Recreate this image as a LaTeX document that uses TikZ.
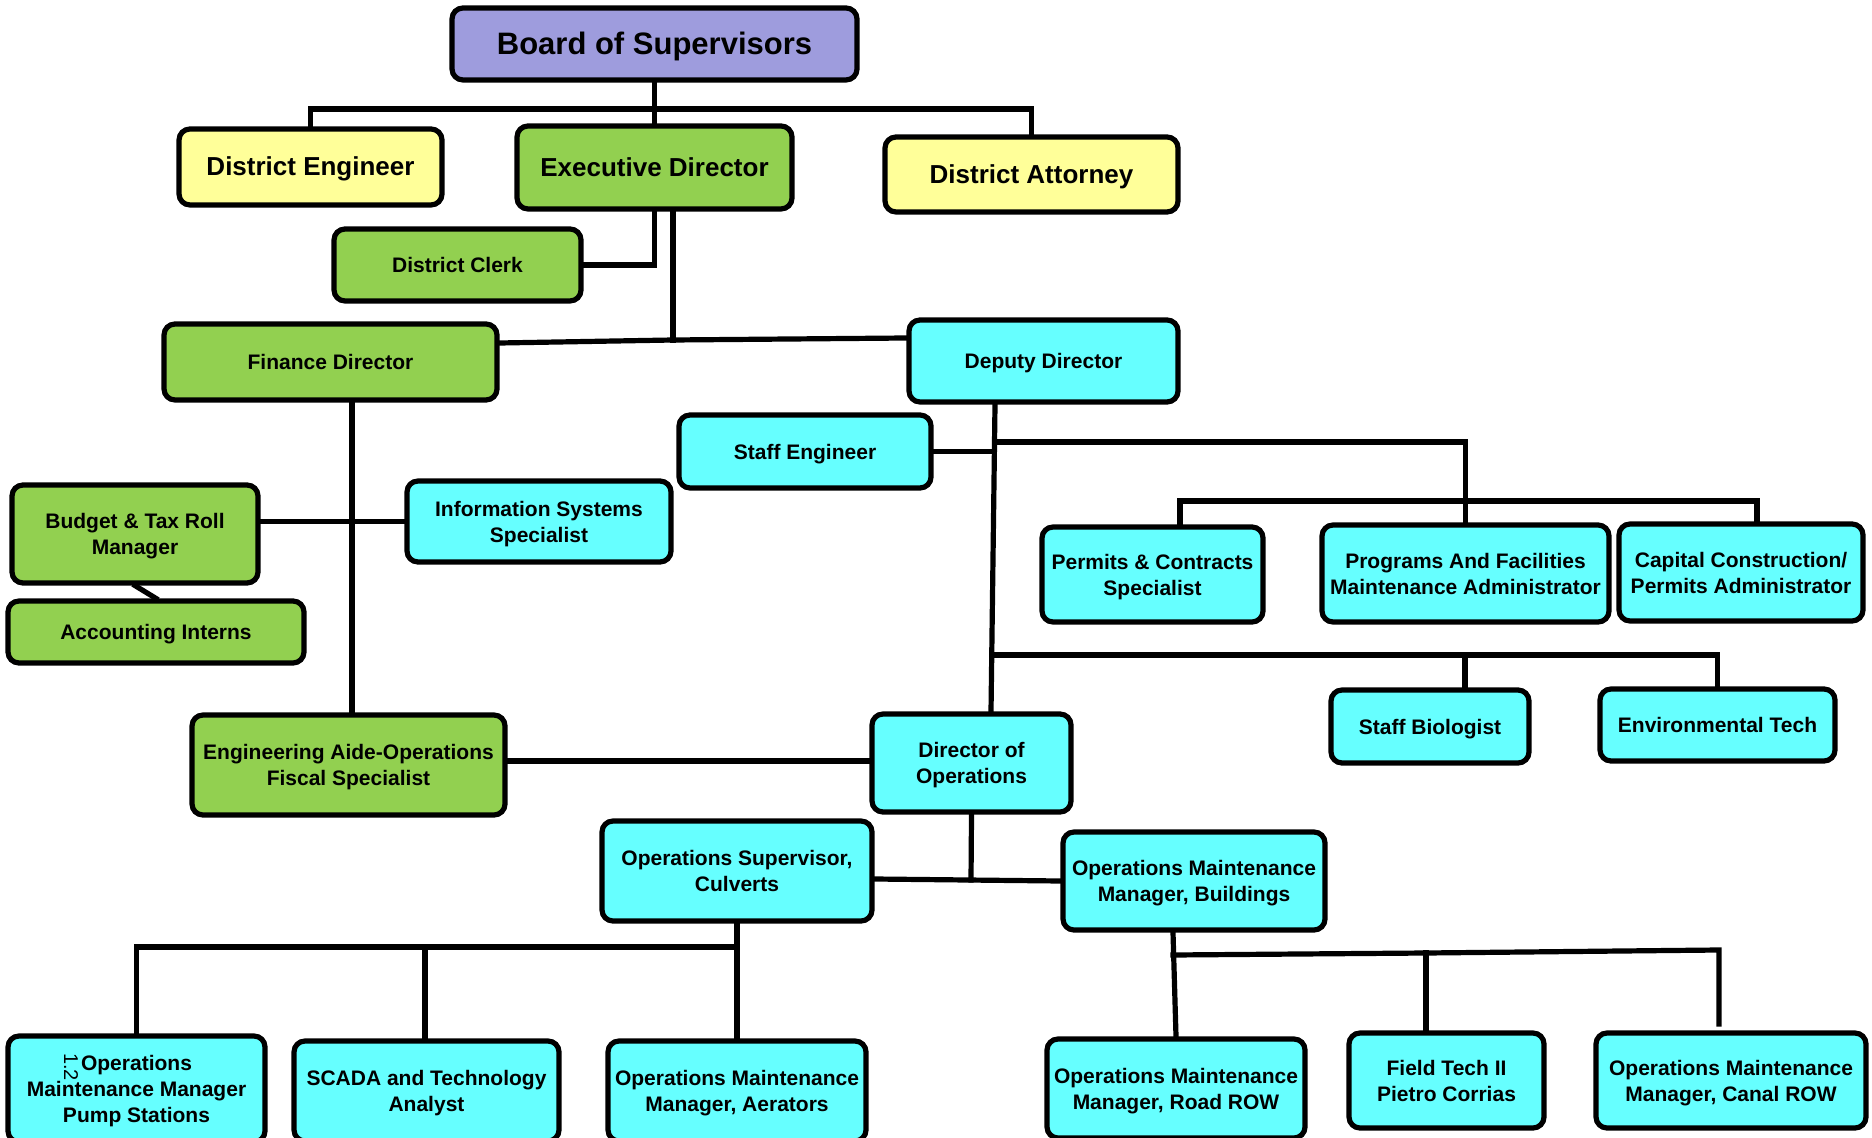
\documentclass[tikz,border=0pt]{standalone}
\usepackage{fontspec}
\setmainfont{Liberation Sans}
\usetikzlibrary{backgrounds}
\definecolor{boardc}{HTML}{9E9CDD}
\definecolor{yelc}{HTML}{FFFF99}
\definecolor{grnc}{HTML}{92D050}
\definecolor{cyac}{HTML}{66FFFF}
\tikzset{
  box/.style={draw=black, line width=2.6pt, rounded corners=5.5pt, inner sep=0pt, align=center, text height=9pt, text depth=1.5pt, font=\bfseries\fontsize{10.5}{13}\selectfont},
  twoline/.style={text height=22pt},
  threeline/.style={text height=35pt},
  bigtext/.style={font=\bfseries\fontsize{13}{16}\selectfont, text height=11pt, text depth=2pt},
  link/.style={draw=black, line width=2.6pt, line cap=rect},
}
\begin{document}
\begin{tikzpicture}[x=0.5pt,y=-0.5pt]
\useasboundingbox (0,0) rectangle (1872,1138);
\node[box, fill=boardc, font=\bfseries\fontsize{15.5}{18}\selectfont, text height=13.2pt, text depth=2.5pt, minimum width=202.5pt, minimum height=36pt] (board) at (654.5,44) {Board of Supervisors};
\node[box, bigtext, fill=yelc, minimum width=131.5pt, minimum height=38pt] (deng) at (310.5,167) {District Engineer};
\node[box, bigtext, fill=grnc, minimum width=137.5pt, minimum height=41.5pt] (exec) at (654.5,167.5) {Executive Director};
\node[box, bigtext, fill=yelc, minimum width=146.5pt, minimum height=37.5pt] (datt) at (1031.5,174.5) {District Attorney};
\node[box, fill=grnc, minimum width=123.5pt, minimum height=36pt] (clerk) at (457.5,265) {District Clerk};
\node[box, fill=grnc, minimum width=166.5pt, minimum height=38pt] (fin) at (330.5,362) {Finance Director};
\node[box, fill=cyac, minimum width=134.5pt, minimum height=41pt] (dep) at (1043.5,361) {Deputy Director};
\node[box, fill=cyac, minimum width=126pt, minimum height=36.5pt] (seng) at (805,451.5) {Staff Engineer};
\node[box, twoline, fill=grnc, minimum width=123pt, minimum height=49pt] (budget) at (135,534) {Budget \& Tax Roll\\Manager};
\node[box, twoline, fill=cyac, minimum width=132pt, minimum height=40.5pt] (iss) at (539,521.5) {Information Systems\\Specialist};
\node[box, fill=grnc, minimum width=148pt, minimum height=31pt] (acct) at (156,632) {Accounting Interns};
\node[box, twoline, fill=cyac, minimum width=110.5pt, minimum height=47.5pt] (permits) at (1152.5,574.5) {Permits \& Contracts\\Specialist};
\node[box, twoline, fill=cyac, minimum width=143.5pt, minimum height=48.5pt] (prog) at (1465.5,573.5) {Programs And Facilities\\Maintenance Administrator};
\node[box, twoline, fill=cyac, minimum width=122pt, minimum height=48.5pt] (cap) at (1741,572.5) {Capital Construction/\\Permits Administrator};
\node[box, fill=cyac, minimum width=99pt, minimum height=36.5pt] (bio) at (1430,726.5) {Staff Biologist};
\node[box, fill=cyac, minimum width=117.5pt, minimum height=36pt] (env) at (1717.5,725) {Environmental Tech};
\node[box, twoline, fill=grnc, minimum width=156.5pt, minimum height=50pt] (aide) at (348.5,765) {Engineering Aide-Operations\\Fiscal Specialist};
\node[box, twoline, fill=cyac, minimum width=99.5pt, minimum height=49pt] (dirops) at (971.5,763) {Director of\\Operations};
\node[box, twoline, fill=cyac, minimum width=135pt, minimum height=50pt] (sup) at (737,871) {Operations Supervisor,\\Culverts};
\node[box, twoline, fill=cyac, minimum width=131pt, minimum height=49pt] (bldg) at (1194,881) {Operations Maintenance\\Manager, Buildings};
\node[box, threeline, fill=cyac, minimum width=128.5pt, minimum height=53pt] (pump) at (136.5,1089) {Operations\\Maintenance Manager\\Pump Stations};
\node[box, twoline, fill=cyac, minimum width=132.5pt, minimum height=50pt] (scada) at (426.5,1091) {SCADA and Technology\\Analyst};
\node[box, twoline, fill=cyac, minimum width=129pt, minimum height=50pt] (aer) at (737,1091) {Operations Maintenance\\Manager, Aerators};
\node[box, twoline, fill=cyac, minimum width=129pt, minimum height=49.5pt] (road) at (1176,1088.5) {Operations Maintenance\\Manager, Road ROW};
\node[box, twoline, fill=cyac, minimum width=97.5pt, minimum height=47.5pt] (field) at (1446.5,1080.5) {Field Tech II\\Pietro Corrias};
\node[box, twoline, fill=cyac, minimum width=135pt, minimum height=47.5pt] (canal) at (1731,1080.5) {Operations Maintenance\\Manager, Canal ROW};
\node[rotate=-90, font=\fontsize{10}{12}\selectfont, inner sep=0pt] (artifact) at (71,1067) {1.2};

% junction coordinates
\coordinate (j1) at (654.5,109);
\coordinate (jfd) at (673,340);
\coordinate (j2) at (994.5,442);
\coordinate (b2L) at (1180,501);
\coordinate (b2R) at (1757,501);
\coordinate (j3) at (993,655);
\coordinate (jbio) at (1465,655);
\coordinate (jops) at (971,880);
\coordinate (jb) at (737,947);
\coordinate (jscada) at (425,947);
\coordinate (jr) at (1173,955);
\coordinate (jf) at (1426,953);
\coordinate (jc) at (1719,950);
\coordinate (jcend) at (1719,1024);

\begin{scope}[on background layer]
\draw[link] (board.south) -- (exec.north);
\draw[link] (deng.north) |- (j1) -| (datt.north);
\draw[link] (exec.south) |- (clerk.east);
\draw[link] (exec.south -| jfd) -- (jfd);
\draw[link] ([yshift=9.5pt]fin.east) -- (jfd) -- ([yshift=11.5pt]dep.west);
\draw[link] ([xshift=10.75pt]fin.south) -- ([xshift=10.75pt]fin.south |- aide.north);
\draw[link] (budget.east |- iss.west) -- (iss.west);
\draw[link] (budget.south) -- (acct.north);
\draw[link] ([xshift=-24.25pt]dep.south) -- ([xshift=9.75pt]dirops.north);
\draw[link] (seng.east) -- (seng.east -| j2);
\draw[link] (j2) -| (prog.north);
\draw[link] (b2L |- permits.north) -- (b2L) -- (b2R) -- (b2R |- cap.north);
\draw[link] (j3) -| (env.north);
\draw[link] (jbio) -- (jbio |- bio.north);
\draw[link] (aide.east |- 0,761) -- (dirops.west |- 0,761);
\draw[link] (dirops.south) -- (jops);
\draw[link] ([yshift=-4pt]sup.east) -- (bldg.west);
\draw[link] (sup.south) -- (aer.north);
\draw[link] (pump.north) |- (jb);
\draw[link] (jscada) -- (jscada |- scada.north);
\draw[link] ([xshift=-10.5pt]bldg.south) -- (road.north);
\draw[link] (jr) -- (jf) -- (jc) -- (jcend);
\draw[link] (jf) -- (jf |- field.north);
\end{scope}
\end{tikzpicture}
\end{document}
